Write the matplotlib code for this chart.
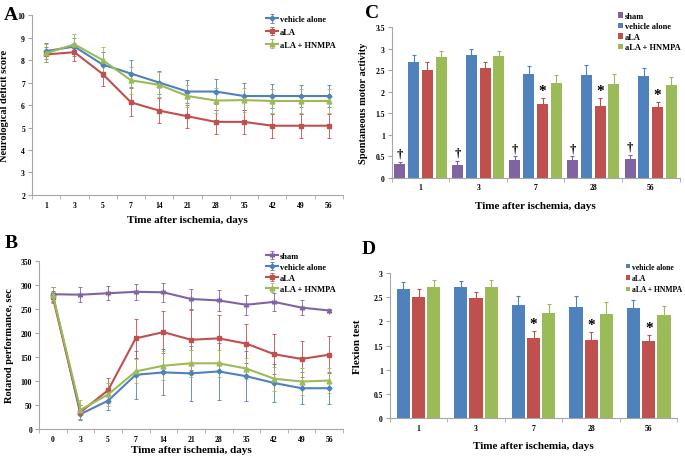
import matplotlib
matplotlib.use("Agg")
import matplotlib.pyplot as plt
import numpy as np

plt.rcParams['font.family'] = ['Liberation Serif', 'DejaVu Serif']
plt.rcParams['font.weight'] = 'bold'

BLUE = '#4F81BD'
RED = '#C0504D'
GREEN = '#9BBB59'
PURPLE = '#8064A2'
SPINE = '#A6A6A6'

# ---------------- Panel A data ----------------
days_a = ['1', '3', '5', '7', '14', '21', '28', '35', '42', '49', '56']
a_vehicle = [8.4, 8.6, 7.8, 7.4, 7.0, 6.6, 6.6, 6.4, 6.4, 6.4, 6.4]
a_vehicle_err = [0.35, 0.4, 0.55, 0.6, 0.5, 0.5, 0.55, 0.6, 0.52, 0.5, 0.48]
a_ala = [8.25, 8.35, 7.38, 6.12, 5.75, 5.5, 5.25, 5.25, 5.08, 5.08, 5.08]
a_ala_err = [0.35, 0.4, 0.55, 0.62, 0.57, 0.5, 0.55, 0.55, 0.53, 0.53, 0.53]
a_hnmpa = [8.3, 8.7, 8.0, 7.1, 6.9, 6.4, 6.2, 6.22, 6.18, 6.18, 6.18]
a_hnmpa_err = [0.4, 0.45, 0.6, 0.6, 0.55, 0.5, 0.55, 0.55, 0.55, 0.55, 0.55]

# ---------------- Panel B data ----------------
days_b = ['0', '3', '5', '7', '14', '21', '28', '35', '42', '49', '56']
b_sham = [281, 280, 283, 286, 285, 271, 268, 259, 265, 253, 247]
b_sham_err = [15, 16, 15, 17, 20, 21, 22, 21, 18, 16, 3]
b_vehicle = [280, 31, 59, 113, 118, 116, 120, 110, 96, 85, 85]
b_vehicle_err = [16, 12, 20, 50, 48, 58, 60, 52, 40, 33, 33]
b_ala = [275, 35, 81, 189, 202, 186, 189, 178, 156, 146, 155]
b_ala_err = [12, 15, 26, 41, 43, 62, 49, 41, 42, 38, 39]
b_hnmpa = [280, 40, 72, 120, 132, 137, 137, 126, 105, 99, 101]
b_hnmpa_err = [17, 20, 24, 25, 30, 28, 28, 22, 25, 28, 26]

# ---------------- Panel C data ----------------
days_c = ['1', '3', '7', '28', '56']
c_sham = [0.33, 0.30, 0.41, 0.42, 0.44]
c_sham_err = [0.05, 0.10, 0.09, 0.08, 0.09]
c_vehicle = [2.70, 2.86, 2.41, 2.38, 2.37]
c_vehicle_err = [0.15, 0.14, 0.18, 0.25, 0.18]
c_ala = [2.51, 2.55, 1.72, 1.68, 1.64]
c_ala_err = [0.18, 0.13, 0.14, 0.17, 0.12]
c_hnmpa = [2.80, 2.83, 2.20, 2.18, 2.16]
c_hnmpa_err = [0.15, 0.12, 0.18, 0.24, 0.18]
c_dagger = ['†', '†', '†', '†', '†']
c_star = ['', '', '*', '*', '*']

# ---------------- Panel D data ----------------
days_d = ['1', '3', '7', '28', '56']
d_vehicle = [2.67, 2.71, 2.34, 2.29, 2.27]
d_vehicle_err = [0.14, 0.13, 0.18, 0.24, 0.18]
d_ala = [2.51, 2.49, 1.66, 1.61, 1.59]
d_ala_err = [0.17, 0.12, 0.14, 0.17, 0.12]
d_hnmpa = [2.71, 2.71, 2.17, 2.15, 2.14]
d_hnmpa_err = [0.15, 0.15, 0.19, 0.25, 0.18]
d_star = ['', '', '*', '*', '*']

XLABEL = 'Time after ischemia, days'
TICKFS = 5.5
LABFS = 7.5
LEGFS = 6


def style_axes(ax, n):
    for s in ['top', 'right']:
        ax.spines[s].set_visible(False)
    for s in ['left', 'bottom']:
        ax.spines[s].set_color(SPINE)
        ax.spines[s].set_linewidth(0.8)
    ax.set_xlim(-0.5, n - 0.5)
    ax.set_xticks(np.arange(n))
    ax.set_xticks(np.arange(n + 1) - 0.5, minor=True)
    ax.tick_params(axis='x', which='major', length=0, labelsize=TICKFS, pad=4)
    ax.tick_params(axis='x', which='minor', length=3, color=SPINE)
    ax.tick_params(axis='y', which='major', length=3, color=SPINE, labelsize=TICKFS, pad=2)
    for lab in ax.get_xticklabels() + ax.get_yticklabels():
        lab.set_fontweight('bold')


fig = plt.figure(figsize=(6.85, 4.6), dpi=100)

# ---------------- Panel A ----------------
axA = fig.add_axes([0.0467, 0.574, 0.454, 0.391])
xa = np.arange(len(days_a))
for vals, err, col, mk, lab in [
    (a_vehicle, a_vehicle_err, BLUE, 'D', 'vehicle alone'),
    (a_ala, a_ala_err, RED, 's', 'aLA'),
    (a_hnmpa, a_hnmpa_err, GREEN, '^', 'aLA + HNMPA')]:
    axA.errorbar(xa, vals, yerr=err, color=col, marker=mk, markersize=3.5 if mk != 'D' else 2.5,
                 linewidth=1.5, elinewidth=0.6, capsize=1.5, capthick=0.6, label=lab,
                 ecolor=col)
axA.set_ylim(2, 10)
axA.set_yticks(np.arange(2, 11, 1))
axA.set_xticklabels(days_a)
style_axes(axA, len(days_a))
axA.set_ylabel('Neurological deficit score', fontsize=LABFS, fontweight='bold', labelpad=6)
axA.set_xlabel(XLABEL, fontsize=LABFS + 0.5, fontweight='bold', labelpad=5)
legA = axA.legend(loc='upper right', bbox_to_anchor=(1.0, 1.04), frameon=False,
                  fontsize=LEGFS, handlelength=1.5, handletextpad=0.2, labelspacing=0.55)
for t in legA.get_texts():
    t.set_fontweight('bold')
fig.text(0.005, 0.985, 'A', fontsize=14, fontweight='bold', va='top')

# ---------------- Panel B ----------------
axB = fig.add_axes([0.0569, 0.0652, 0.444, 0.365])
xb = np.arange(len(days_b))
for vals, err, col, mk, lab, ms in [
    (b_sham, b_sham_err, PURPLE, (6, 2, 0), 'sham', 4),
    (b_vehicle, b_vehicle_err, BLUE, 'D', 'vehicle alone', 2.5),
    (b_ala, b_ala_err, RED, 's', 'aLA', 3.5),
    (b_hnmpa, b_hnmpa_err, GREEN, '^', 'aLA + HNMPA', 3.5)]:
    axB.errorbar(xb, vals, yerr=err, color=col, marker=mk, markersize=ms,
                 linewidth=1.5, elinewidth=0.6, capsize=1.5, capthick=0.6, label=lab,
                 ecolor=col)
axB.set_ylim(0, 350)
axB.set_yticks(np.arange(0, 351, 50))
axB.set_xticklabels(days_b)
style_axes(axB, len(days_b))
axB.set_ylabel('Rotarod performance, sec', fontsize=LABFS, fontweight='bold', labelpad=5)
axB.set_xlabel(XLABEL, fontsize=LABFS + 0.5, fontweight='bold', labelpad=2)
legB = axB.legend(loc='upper right', bbox_to_anchor=(1.0, 1.1), frameon=False,
                  fontsize=LEGFS, handlelength=1.5, handletextpad=0.2, labelspacing=0.35)
for t in legB.get_texts():
    t.set_fontweight('bold')
fig.text(0.007, 0.49, 'B', fontsize=14, fontweight='bold', va='top')

# ---------------- Panel C ----------------
axC = fig.add_axes([0.572, 0.611, 0.420, 0.328])
xc = np.arange(len(days_c))
wC = 0.19
offC = [-0.36, -0.12, 0.12, 0.36]
for vals, err, col, off, lab in [
    (c_sham, c_sham_err, PURPLE, offC[0], 'sham'),
    (c_vehicle, c_vehicle_err, BLUE, offC[1], 'vehicle alone'),
    (c_ala, c_ala_err, RED, offC[2], 'aLA'),
    (c_hnmpa, c_hnmpa_err, GREEN, offC[3], 'aLA + HNMPA')]:
    axC.bar(xc + off, vals, width=wC, color=col, label=lab,
            yerr=err, error_kw=dict(ecolor=col, elinewidth=0.8, capsize=1.5, capthick=0.8))
for i in range(len(days_c)):
    axC.text(xc[i] + offC[0], c_sham[i] + c_sham_err[i] + 0.05, c_dagger[i],
             ha='center', va='bottom', fontsize=9, fontweight='bold')
    if c_star[i]:
        axC.text(xc[i] + offC[2], c_ala[i] + c_ala_err[i] + 0.02, c_star[i],
                 ha='center', va='bottom', fontsize=11, fontweight='bold')
axC.set_ylim(0, 3.5)
axC.set_yticks([0, 0.5, 1, 1.5, 2, 2.5, 3, 3.5])
axC.set_yticklabels(['0', '0.5', '1', '1.5', '2', '2.5', '3', '3.5'])
axC.set_xticklabels(days_c)
style_axes(axC, len(days_c))
axC.set_ylabel('Spontaneous motor activity', fontsize=LABFS, fontweight='bold', labelpad=5)
axC.set_xlabel(XLABEL, fontsize=LABFS + 0.5, fontweight='bold', labelpad=7)
legC = axC.legend(loc='upper right', bbox_to_anchor=(1.03, 1.15), frameon=False,
                  fontsize=LEGFS, handlelength=0.6, handleheight=0.6, handletextpad=0.3,
                  labelspacing=0.3)
for t in legC.get_texts():
    t.set_fontweight('bold')
fig.text(0.533, 0.99, 'C', fontsize=14, fontweight='bold', va='top')

# ---------------- Panel D ----------------
axD = fig.add_axes([0.569, 0.0891, 0.420, 0.315])
xd = np.arange(len(days_d))
wD = 0.23
offD = [-0.265, 0.0, 0.265]
for vals, err, col, off, lab in [
    (d_vehicle, d_vehicle_err, BLUE, offD[0], 'vehicle alone'),
    (d_ala, d_ala_err, RED, offD[1], 'aLA'),
    (d_hnmpa, d_hnmpa_err, GREEN, offD[2], 'aLA + HNMPA')]:
    axD.bar(xd + off, vals, width=wD, color=col, label=lab,
            yerr=err, error_kw=dict(ecolor=col, elinewidth=0.8, capsize=1.5, capthick=0.8))
for i in range(len(days_d)):
    if d_star[i]:
        axD.text(xd[i] + offD[1], d_ala[i] + d_ala_err[i] + 0.02, d_star[i],
                 ha='center', va='bottom', fontsize=11, fontweight='bold')
axD.set_ylim(0, 3)
axD.set_yticks([0, 0.5, 1, 1.5, 2, 2.5, 3])
axD.set_yticklabels(['0', '0.5', '1', '1.5', '2', '2.5', '3'])
axD.set_xticklabels(days_d)
style_axes(axD, len(days_d))
axD.set_ylabel('Flexion test', fontsize=LABFS + 0.5, fontweight='bold', labelpad=8)
axD.set_xlabel(XLABEL, fontsize=LABFS + 0.5, fontweight='bold', labelpad=7)
legD = axD.legend(loc='upper right', bbox_to_anchor=(1.04, 1.12), frameon=False,
                  fontsize=LEGFS - 0.5, handlelength=0.5, handleheight=0.5, handletextpad=0.3,
                  labelspacing=0.45)
for t in legD.get_texts():
    t.set_fontweight('bold')
fig.text(0.528, 0.475, 'D', fontsize=14, fontweight='bold', va='top')

fig.savefig('out.png', dpi=100)
